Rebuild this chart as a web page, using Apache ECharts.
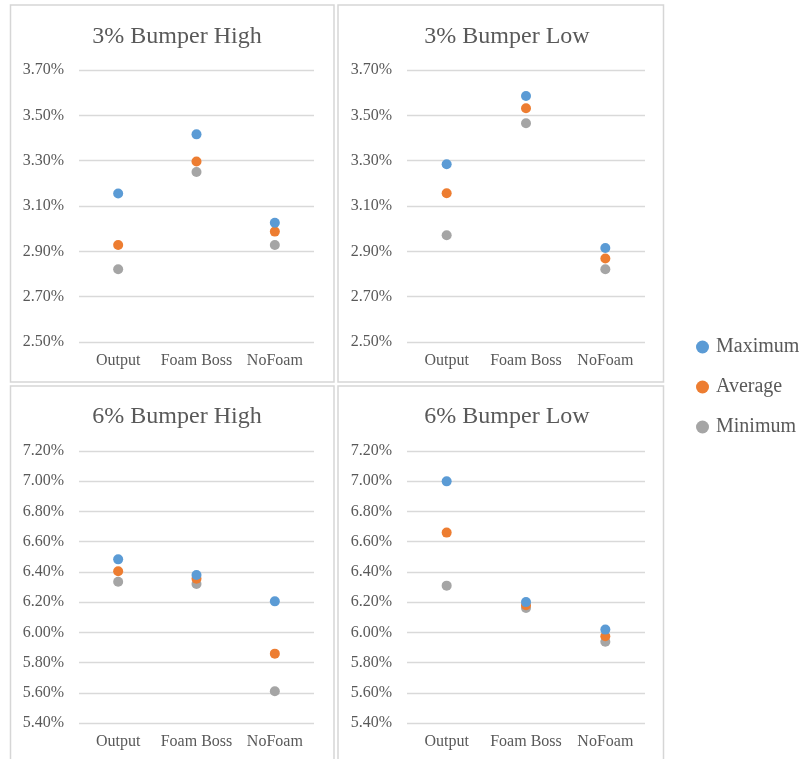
<!DOCTYPE html>
<html>
<head>
<meta charset="utf-8">
<script src="https://cdn.jsdelivr.net/npm/echarts@6/dist/echarts.min.js"></script>
<style>html,body{margin:0;padding:0;background:#fff;}#c{width:805px;height:759px;}</style>
</head>
<body>
<div id="c"></div>
<script>
var categories = ['Output', 'Foam Boss', 'NoFoam'];
var seriesNames = ['Maximum', 'Average', 'Minimum'];
var panelTitles = ['3% Bumper High', '3% Bumper Low', '6% Bumper High', '6% Bumper Low'];

// values in percent
var highMax3 = [3.155, 3.416, 3.026];
var highAvg3 = [2.928, 3.296, 2.987];
var highMin3 = [2.821, 3.250, 2.928];

var lowMax3 = [3.284, 3.585, 2.915];
var lowAvg3 = [3.156, 3.531, 2.868];
var lowMin3 = [2.971, 3.465, 2.821];

var highMax6 = [6.483, 6.380, 6.205];
var highAvg6 = [6.404, 6.355, 5.859];
var highMin6 = [6.335, 6.320, 5.610];

var lowMax6 = [6.999, 6.200, 6.018];
var lowAvg6 = [6.660, 6.179, 5.974];
var lowMin6 = [6.309, 6.161, 5.938];

var yTicks3 = [2.5, 2.7, 2.9, 3.1, 3.3, 3.5, 3.7];
var yTicks6 = [5.4, 5.6, 5.8, 6.0, 6.2, 6.4, 6.6, 6.8, 7.0, 7.2];

var colors = ['#5B9BD5', '#ED7D31', '#A5A5A5'];
var panelData = [
  [highMax3, highAvg3, highMin3],
  [lowMax3, lowAvg3, lowMin3],
  [highMax6, highAvg6, highMin6],
  [lowMax6, lowAvg6, lowMin6]
];
var panelTicks = [yTicks3, yTicks3, yTicks6, yTicks6];

var FONT = '"Liberation Serif", "Times New Roman", serif';
var TXT = '#595959';

var grids = [
  {left: 79, top: 70, width: 235, height: 272},
  {left: 407, top: 70, width: 238, height: 272},
  {left: 79, top: 451, width: 235, height: 272},
  {left: 407, top: 451, width: 238, height: 272}
];
var titleCenters = [[172, 20], [502, 20], [172, 400], [502, 400]];

var chart = echarts.init(document.getElementById('c'), null, {renderer: 'canvas'});

var xAxes = [], yAxes = [], series = [], titles = [];
for (var p = 0; p < 4; p++) {
  var ticks = panelTicks[p];
  xAxes.push({
    type: 'category', gridIndex: p, data: categories,
    axisLine: {show: false}, axisTick: {show: false},
    axisLabel: {color: TXT, fontFamily: FONT, fontSize: 16, margin: 11, interval: 0}
  });
  yAxes.push({
    type: 'value', gridIndex: p,
    min: ticks[0], max: ticks[ticks.length - 1],
    interval: 0.2,
    axisLine: {show: false}, axisTick: {show: false},
    splitLine: {lineStyle: {color: '#D9D9D9', width: 1.3}},
    axisLabel: {color: TXT, fontFamily: FONT, fontSize: 16, margin: 15,
      formatter: function (v) { return v.toFixed(2) + '%'; }}
  });
  titles.push({
    text: panelTitles[p], left: titleCenters[p][0], top: titleCenters[p][1], textAlign: 'center',
    textStyle: {color: TXT, fontFamily: FONT, fontSize: 24, fontWeight: 'normal'}
  });
  for (var s = 0; s < 3; s++) {
    series.push({
      name: seriesNames[s], type: 'scatter', xAxisIndex: p, yAxisIndex: p,
      data: panelData[p][s], symbol: 'circle', symbolSize: 10,
      itemStyle: {color: colors[s], opacity: 1}, z: 10 - s
    });
  }
}

var borderStyle = {fill: 'none', stroke: '#D6D6D6', lineWidth: 1.5};
chart.setOption({
  animation: false,
  backgroundColor: '#fff',
  color: colors,
  title: titles,
  grid: grids,
  xAxis: xAxes,
  yAxis: yAxes,
  series: series,
  legend: {
    orient: 'vertical', left: 691, top: 332,
    icon: 'circle', itemWidth: 13, itemHeight: 13, itemGap: 20,
    data: seriesNames,
    textStyle: {color: TXT, fontFamily: FONT, fontSize: 20, padding: [0, 0, 0, 2]}
  },
  graphic: [
    {type: 'rect', shape: {x: 10.5, y: 5, width: 323.5, height: 377}, style: borderStyle, silent: true},
    {type: 'rect', shape: {x: 338, y: 5, width: 325.5, height: 377}, style: borderStyle, silent: true},
    {type: 'rect', shape: {x: 10.5, y: 386, width: 323.5, height: 380}, style: borderStyle, silent: true},
    {type: 'rect', shape: {x: 338, y: 386, width: 325.5, height: 380}, style: borderStyle, silent: true}
  ]
});
</script>
</body>
</html>
